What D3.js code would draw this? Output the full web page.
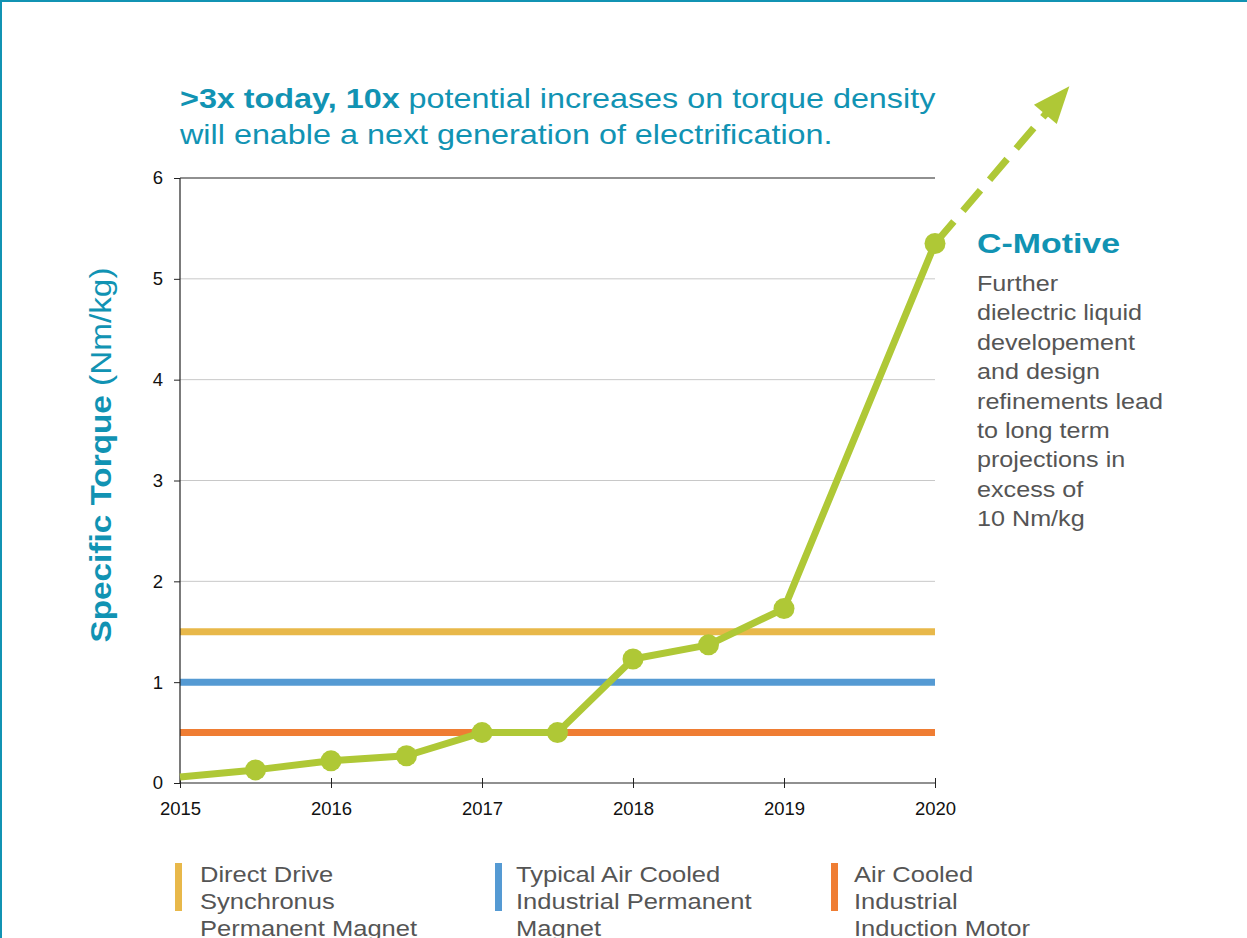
<!DOCTYPE html>
<html>
<head>
<meta charset="utf-8">
<script src="https://cdn.jsdelivr.net/npm/d3@7"></script>
<style>
  body { margin: 0; background: #fff; }
  text { font-family: "Liberation Sans", Arial, sans-serif; }
</style>
</head>
<body>
<script>
// data
const years = [2015, 2016, 2017, 2018, 2019, 2020];
const yTicks = [0, 1, 2, 3, 4, 5, 6];
const cmotive = [
  {x: 2015, y: 0.06, dot: false},
  {x: 2015.5, y: 0.13, dot: true},
  {x: 2016, y: 0.22, dot: true},
  {x: 2016.5, y: 0.27, dot: true},
  {x: 2017, y: 0.5, dot: true},
  {x: 2017.5, y: 0.5, dot: true},
  {x: 2018, y: 1.23, dot: true},
  {x: 2018.5, y: 1.37, dot: true},
  {x: 2019, y: 1.73, dot: true},
  {x: 2020, y: 5.35, dot: true}
];
const projection = [{x: 2020, y: 5.35}, {x: 2020.89, y: 6.91}];
const refLevels = [1.5, 1.0, 0.5];
const refColors = ['#e8b84a', '#559ad3', '#ef7d33'];
const refNames = [
  ['Direct Drive', 'Synchronus', 'Permanent Magnet'],
  ['Typical Air Cooled', 'Industrial Permanent', 'Magnet'],
  ['Air Cooled', 'Industrial', 'Induction Motor']
];
const noteLines = ['Further', 'dielectric liquid', 'developement', 'and design',
  'refinements lead', 'to long term', 'projections in', 'excess of', '10 Nm/kg'];

const W = 1247, H = 938;
const teal = '#1193b3';
const green = '#afc836';
const grey = '#555';

const svg = d3.select('body')
    .append('svg')
    .attr('width', W)
    .attr('height', H);

// the original font is wider than Liberation Sans, so stretch the text a bit
function stretch(sel, k) {
  sel.each(function() {
    const len = this.getComputedTextLength();
    d3.select(this).attr('textLength', len * k).attr('lengthAdjust', 'spacingAndGlyphs');
  });
}

// frame lines top / left
svg.append('line').attr('x1', 0).attr('x2', W).attr('y1', 1).attr('y2', 1)
   .attr('stroke', teal).attr('stroke-width', 2);
svg.append('line').attr('x1', 1).attr('x2', 1).attr('y1', 0).attr('y2', H)
   .attr('stroke', teal).attr('stroke-width', 2);

const x = d3.scaleLinear().domain([2015, 2020]).range([180, 935]);
const y = d3.scaleLinear().domain([0, 6]).range([783, 178]);

// gridlines
svg.append('g').selectAll('line')
   .data(yTicks.filter(d => d > 0 && d < 6))
   .enter().append('line')
   .attr('x1', x(2015)).attr('x2', x(2020))
   .attr('y1', d => y(d)).attr('y2', d => y(d))
   .attr('stroke', '#c8c8c8').attr('stroke-width', 1);

// top line
svg.append('line')
   .attr('x1', x(2015)).attr('x2', x(2020))
   .attr('y1', y(6)).attr('y2', y(6))
   .attr('stroke', '#222').attr('stroke-width', 1.2);

// reference levels
svg.append('g').selectAll('line')
   .data(refLevels)
   .enter().append('line')
   .attr('x1', x(2015)).attr('x2', x(2020))
   .attr('y1', d => y(d)).attr('y2', d => y(d))
   .attr('stroke', (d, i) => refColors[i]).attr('stroke-width', 7);

// axes
const yAxis = svg.append('g')
   .attr('transform', 'translate(' + x(2015) + ',0)')
   .call(d3.axisLeft(y).tickValues(yTicks).tickSize(6).tickPadding(11).tickFormat(d3.format('d')));
const xAxis = svg.append('g')
   .attr('transform', 'translate(0,' + y(0) + ')')
   .call(d3.axisBottom(x).tickValues(years).tickSize(6).tickPadding(13).tickFormat(d3.format('d')));
[xAxis, yAxis].forEach(a => {
  a.select('.domain').attr('stroke', '#222').attr('stroke-width', 1.2);
  a.selectAll('.tick line').attr('stroke', '#222');
  a.selectAll('.tick text').attr('font-size', 18.5).attr('fill', '#111')
   .attr('font-family', '"Liberation Sans", Arial, sans-serif');
});
xAxis.select('.domain').attr('d', 'M' + x(2015) + ',0H' + x(2020));
xAxis.selectAll('.tick line').attr('y1', -5).attr('y2', 5);
yAxis.select('.domain').attr('d', 'M0,' + y(6) + 'V' + y(0));

// projection arrow (dashed)
const ax1 = x(projection[0].x), ay1 = y(projection[0].y);
const ax2 = x(projection[1].x), ay2 = y(projection[1].y);
const ang = Math.atan2(ay2 - ay1, ax2 - ax1);
const headLen = 37;
const bx = ax2 - headLen * Math.cos(ang), by = ay2 - headLen * Math.sin(ang);
svg.append('line')
   .attr('x1', ax1).attr('y1', ay1).attr('x2', bx + 2 * Math.cos(ang)).attr('y2', by + 2 * Math.sin(ang))
   .attr('stroke', green).attr('stroke-width', 7)
   .attr('stroke-dasharray', '27,14').attr('stroke-dashoffset', -2);
const hw = 15;
svg.append('path')
   .attr('d', 'M' + ax2 + ',' + ay2 +
     'L' + (bx + hw * Math.sin(ang)) + ',' + (by - hw * Math.cos(ang)) +
     'L' + (bx - hw * Math.sin(ang)) + ',' + (by + hw * Math.cos(ang)) + 'Z')
   .attr('fill', green);

// main line
const line = d3.line().x(d => x(d.x)).y(d => y(d.y));
svg.append('path')
   .datum(cmotive)
   .attr('d', line)
   .attr('fill', 'none')
   .attr('stroke', green)
   .attr('stroke-width', 7)
   .attr('stroke-linejoin', 'round');
svg.append('g').selectAll('circle')
   .data(cmotive.filter(d => d.dot))
   .enter().append('circle')
   .attr('cx', d => x(d.x)).attr('cy', d => y(d.y))
   .attr('r', 10.5).attr('fill', green);

// title
const title = svg.append('text').attr('x', 180).attr('y', 108)
   .attr('font-size', 28).attr('fill', teal);
title.append('tspan').attr('font-weight', 'bold').text('>3x today, 10x');
title.append('tspan').text(' potential increases on torque density');
const title2 = svg.append('text').attr('x', 180).attr('y', 144)
   .attr('font-size', 28).attr('fill', teal)
   .text('will enable a next generation of electrification.');
stretch(title, 1.155);
stretch(title2, 1.155);

// y axis title
const yt = svg.append('text')
   .attr('transform', 'translate(111,455) rotate(-90)')
   .attr('text-anchor', 'middle')
   .attr('font-size', 29).attr('fill', teal);
yt.append('tspan').attr('font-weight', 'bold').text('Specific Torque');
yt.append('tspan').text(' (Nm/kg)');
stretch(yt, 375 / yt.node().getComputedTextLength());

// C-Motive note
const cm = svg.append('text').attr('x', 977).attr('y', 253)
   .attr('font-size', 28).attr('font-weight', 'bold').attr('fill', teal)
   .text('C-Motive');
stretch(cm, 143 / cm.node().getComputedTextLength());
const note = svg.append('g').selectAll('text')
   .data(noteLines)
   .enter().append('text')
   .attr('x', 977).attr('y', (d, i) => 291 + i * 29.4)
   .attr('font-size', 21.5).attr('fill', grey)
   .text(d => d);
stretch(note, 1.17);

// legend
const legX = [175, 495, 831];
const legTextDx = [25, 21, 23];
const leg = svg.append('g').selectAll('g')
   .data(refNames)
   .enter().append('g')
   .attr('transform', (d, i) => 'translate(' + legX[i] + ',0)');
leg.append('rect')
   .attr('x', 0).attr('y', 863).attr('width', 7).attr('height', 48)
   .attr('fill', (d, i) => refColors[i]);
leg.each(function(d, i) {
  const t = d3.select(this).selectAll('text')
    .data(d)
    .enter().append('text')
    .attr('x', legTextDx[i]).attr('y', (t, j) => 882 + j * 27)
    .attr('font-size', 22).attr('fill', grey)
    .text(t => t);
  stretch(t, 1.16);
});
</script>
</body>
</html>
